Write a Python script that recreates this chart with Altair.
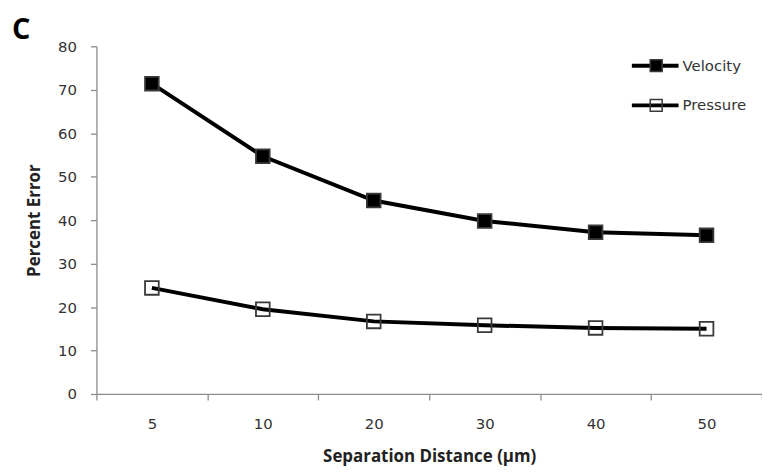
import altair as alt
import pandas as pd

# ---- data ----
distances = ["5", "10", "20", "30", "40", "50"]
velocity = [71.4, 54.7, 44.5, 39.8, 37.2, 36.5]
pressure = [24.4, 19.5, 16.7, 15.8, 15.2, 15.0]
series_names = ["Velocity", "Pressure"]

rows = []
for d, v, p in zip(distances, velocity, pressure):
    rows.append({"distance": d, "series": "Velocity", "error": v})
    rows.append({"distance": d, "series": "Pressure", "error": p})
df = pd.DataFrame(rows)

FONT = "DejaVu Sans"
TITLE_FONT = "Open Sans"
AXIS_GRAY = "#8c8c8c"
TEXT = "#333333"

x = alt.X(
    "distance:N",
    sort=distances,
    scale=alt.Scale(type="band", paddingInner=0, paddingOuter=0),
    axis=alt.Axis(
        title="Separation Distance (µm)",
        labelAngle=0,
        tickBand="extent",
        tickSize=6,
        labelPadding=17,
        titlePadding=17,
    ),
)
y = alt.Y(
    "error:Q",
    scale=alt.Scale(domain=[0, 80], nice=False),
    axis=alt.Axis(
        title="Percent Error",
        values=list(range(0, 81, 10)),
        tickSize=6,
        labelPadding=14,
        titlePadding=14,
        grid=False,
    ),
)

lines = alt.Chart(df).mark_line(strokeWidth=4).encode(
    x=x,
    y=y,
    color=alt.Color(
        "series:N",
        scale=alt.Scale(domain=series_names, range=["#000000", "#000000"]),
        legend=alt.Legend(
            title=None,
            orient="none",
            legendX=537,
            legendY=-6,
            symbolType="stroke",
            symbolSize=2209,
            symbolStrokeWidth=4,
            labelOffset=2,
            rowPadding=6,
            padding=0,
        ),
    ),
)

# marker-only legend drawn over the line legend (its labels are left empty)
points = alt.Chart(df).mark_square(
    size=190, stroke="#3a3a3a", strokeWidth=1.8, opacity=1
).encode(
    x=x,
    y=y,
    fill=alt.Fill(
        "series:N",
        sort=series_names,
        scale=alt.Scale(range=["#000000", "transparent"]),
        legend=alt.Legend(
            title=None,
            orient="none",
            legendX=556,
            legendY=12,
            symbolType="square",
            symbolSize=144,
            symbolStrokeColor="#3a3a3a",
            symbolStrokeWidth=1.5,
            labelExpr="''",
            rowPadding=21,
            padding=0,
        ),
    ),
)

chart = (
    alt.layer(lines, points)
    .properties(
        width=670,
        height=350,
        padding={"left": 89, "top": 37, "right": 0, "bottom": 74},
        autosize=alt.AutoSizeParams(type="none"),
        title=alt.TitleParams(
            "C",
            anchor="start",
            frame="group",
            dx=-85,
            dy=7,
            offset=1,
            font=TITLE_FONT,
            fontSize=29,
            fontWeight="bold",
            color="#000000",
        ),
        background="white",
    )
    .configure_view(stroke=None)
    .configure_axis(
        domainColor=AXIS_GRAY,
        tickColor=AXIS_GRAY,
        domainWidth=1.3,
        tickWidth=1.3,
        labelFont=FONT,
        labelFontSize=15,
        labelColor=TEXT,
        titleFont=TITLE_FONT,
        titleFontSize=17,
        titleFontWeight="bold",
        titleColor="#222222",
    )
    .configure_legend(labelFont=FONT, labelFontSize=15, labelColor=TEXT)
)

chart.save("out.html", embed_options={"renderer": "svg", "actions": False})
